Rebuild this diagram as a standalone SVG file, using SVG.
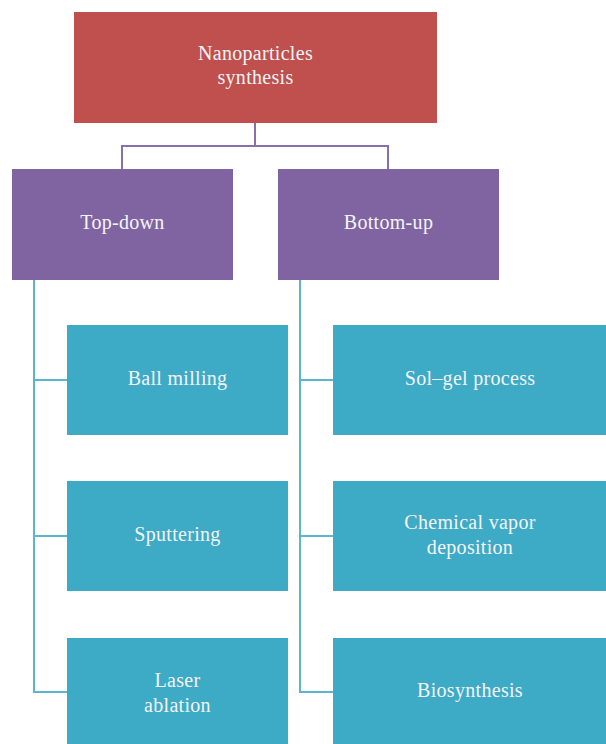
<svg xmlns="http://www.w3.org/2000/svg" width="606" height="744" viewBox="0 0 606 744">
<style>
.t{font-family:"Liberation Serif","DejaVu Serif",serif;font-size:20px;letter-spacing:0.3px;fill:#f4f4f8;text-anchor:middle}
.red{fill:#C0504D}.pur{fill:#8064A2}.teal{fill:#3DAAC6}
.cp{fill:none;stroke:#8A6FAD;stroke-width:2}
.ct{fill:none;stroke:#5BB5CF;stroke-width:2}
</style>
<rect width="606" height="744" fill="#fff"/>
<g id="connectors">
<path class="cp" d="M255,123V146M122,169V146H388V169"/>
<path class="ct" d="M34,280V692H67M34,380H67M34,536H67"/>
<path class="ct" d="M300,280V692H333M300,380H333M300,536H333"/>
</g>
<g id="root"><rect class="red" x="74" y="12" width="363" height="111"/><text class="t" x="255.5" y="60">Nanoparticles</text><text class="t" x="255.5" y="84">synthesis</text></g>
<g id="topdown"><rect class="pur" x="12" y="169" width="221" height="111"/><text class="t" x="122.5" y="229">Top-down</text></g>
<g id="bottomup"><rect class="pur" x="278" y="169" width="221" height="111"/><text class="t" x="388.5" y="229">Bottom-up</text></g>
<g id="ballmilling"><rect class="teal" x="67" y="325" width="221" height="110"/><text class="t" x="177.5" y="385">Ball milling</text></g>
<g id="sputtering"><rect class="teal" x="67" y="481" width="221" height="110"/><text class="t" x="177.5" y="541">Sputtering</text></g>
<g id="laser"><rect class="teal" x="67" y="638" width="221" height="106"/><text class="t" x="177.5" y="687">Laser</text><text class="t" x="177.5" y="712">ablation</text></g>
<g id="solgel"><rect class="teal" x="333" y="325" width="273" height="110"/><text class="t" x="470" y="385">Sol–gel process</text></g>
<g id="cvd"><rect class="teal" x="333" y="481" width="273" height="110"/><text class="t" x="470" y="529">Chemical vapor</text><text class="t" x="470" y="554">deposition</text></g>
<g id="bio"><rect class="teal" x="333" y="638" width="273" height="106"/><text class="t" x="470" y="697">Biosynthesis</text></g>
</svg>
